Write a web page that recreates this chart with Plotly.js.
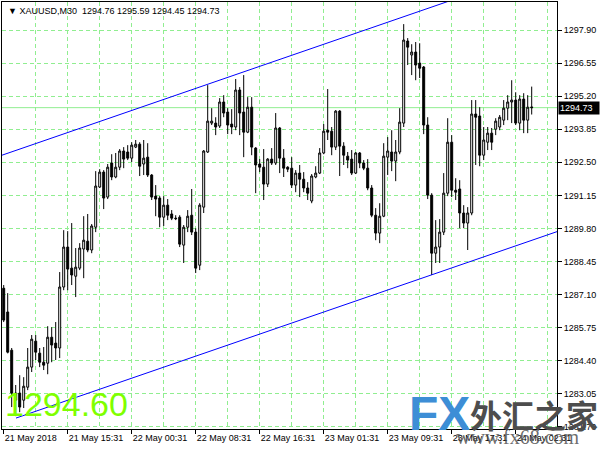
<!DOCTYPE html>
<html><head><meta charset="utf-8">
<script src="https://cdn.plot.ly/plotly-3.0.1.min.js"></script>
<style>html,body{margin:0;padding:0;background:#fff}</style>
</head><body>
<div id="chart" style="width:600px;height:450px"></div>
<script>
const symbol = "XAUUSD,M30";
const timeLabels = ["21 May 2018","21 May 15:31","22 May 00:31","22 May 08:31","22 May 16:31","23 May 01:31","23 May 09:31","23 May 17:31","24 May 02:31"];
const labelBars = [0,16,32,48,64,80,96,112,128];
const gridBars = [8,16,24,32,40,48,56,64,72,80,88,96,104,112,120,128,136];
const yTicks = [1281.70,1283.05,1284.40,1285.75,1287.10,1288.45,1289.80,1291.15,1292.50,1293.85,1295.20,1296.55,1297.90];

const open = [
1287.36,1286.39,1284.83,1282.79,1283.08,1282.79,1283.32,1284.14,1285.20,1284.71,
1284.34,1284.30,1285.36,1285.12,1284.92,1287.41,1289.04,1288.18,1287.85,1288.18,
1288.96,1289.28,1288.92,1289.85,1291.49,1292.10,1291.08,1292.47,1291.90,1292.30,
1292.96,1292.92,1292.67,1293.12,1293.24,1292.43,1292.71,1291.98,1291.12,1291.04,
1290.26,1290.75,1290.39,1290.22,1290.26,1289.12,1289.85,1290.34,1289.65,1288.30,
1290.67,1292.92,1294.10,1294.10,1293.98,1294.96,1294.55,1294.06,1293.94,1295.45,
1294.55,1293.73,1294.75,1293.08,1292.43,1292.30,1291.61,1292.63,1292.47,1293.90,
1292.67,1292.30,1292.26,1291.57,1292.06,1291.81,1291.45,1290.92,1291.90,1292.06,
1292.88,1293.81,1293.77,1293.12,1294.59,1293.16,1292.75,1292.63,1292.06,1292.88,
1292.47,1292.26,1291.45,1290.34,1289.61,1290.30,1292.71,1292.92,1292.55,1292.92,
1294.10,1297.45,1296.88,1297.00,1296.55,1296.39,1294.02,1291.16,1288.79,1289.04,
1289.65,1291.24,1293.32,1291.36,1291.41,1290.43,1290.02,1290.43,1294.47,1294.39,
1292.79,1293.32,1293.69,1293.85,1293.94,1294.22,1294.71,1294.96,1295.04,1294.10,
1295.08,1294.22,1294.76];
const high = [
1287.49,1287.16,1284.92,1283.41,1283.81,1283.73,1284.92,1285.45,1285.45,1284.92,
1284.96,1285.81,1285.77,1285.98,1288.02,1289.73,1289.69,1290.02,1289.00,1289.20,
1290.30,1290.39,1289.98,1292.14,1292.22,1292.18,1292.43,1292.83,1292.88,1293.04,
1293.12,1293.20,1293.32,1293.41,1293.32,1293.41,1293.28,1292.02,1291.57,1291.12,
1291.12,1291.00,1290.55,1290.34,1290.34,1289.94,1290.55,1291.41,1289.81,1290.83,
1293.00,1295.65,1294.71,1294.34,1295.12,1295.24,1294.71,1294.67,1295.90,1295.57,
1296.06,1295.16,1295.16,1293.12,1292.63,1293.04,1292.67,1293.08,1294.51,1293.94,
1293.04,1292.34,1292.71,1292.18,1292.39,1292.10,1291.69,1292.02,1292.34,1293.08,
1294.06,1295.49,1293.94,1294.63,1294.63,1293.32,1292.92,1293.00,1292.92,1292.92,
1292.59,1292.63,1291.57,1290.63,1290.83,1293.28,1293.53,1293.81,1293.41,1294.71,
1298.14,1297.57,1297.32,1297.41,1297.36,1296.43,1294.34,1291.24,1290.14,1290.18,
1292.06,1294.30,1293.61,1291.85,1291.77,1290.75,1290.67,1295.04,1295.04,1294.75,
1293.94,1293.94,1293.90,1294.30,1294.43,1295.04,1295.24,1295.85,1295.36,1295.24,
1295.32,1295.24,1295.59];
const low = [
1285.98,1284.70,1282.51,1282.14,1282.30,1282.47,1283.20,1283.94,1284.43,1284.14,
1284.02,1283.85,1284.34,1284.43,1284.51,1287.28,1287.28,1287.49,1287.00,1288.10,
1287.77,1288.83,1288.79,1289.65,1291.45,1290.59,1291.00,1291.77,1291.85,1292.18,
1292.26,1292.59,1292.51,1293.08,1291.94,1291.98,1291.90,1290.96,1290.30,1289.85,
1289.90,1290.14,1290.14,1290.14,1289.04,1288.39,1289.65,1289.53,1287.98,1288.10,
1290.43,1292.88,1294.02,1293.61,1293.90,1294.34,1293.65,1293.65,1293.81,1293.61,
1292.71,1293.69,1292.79,1291.24,1292.10,1290.96,1291.49,1292.39,1292.39,1292.06,
1291.90,1292.10,1291.45,1291.28,1291.08,1291.28,1290.96,1290.83,1291.85,1292.02,
1292.83,1293.41,1292.79,1293.00,1291.94,1292.39,1292.26,1291.98,1292.02,1292.26,
1292.18,1291.36,1290.26,1289.32,1289.20,1290.26,1291.98,1292.14,1291.73,1292.83,
1293.94,1296.47,1296.06,1295.85,1295.94,1293.65,1291.00,1287.90,1288.39,1288.39,
1289.53,1291.12,1291.08,1290.96,1289.81,1289.81,1288.92,1290.34,1292.39,1292.34,
1292.59,1293.00,1293.00,1293.61,1293.81,1294.02,1294.22,1294.10,1294.02,1293.81,
1293.69,1293.69,1294.45];
const close = [
1286.06,1284.75,1283.08,1283.08,1282.51,1283.36,1284.14,1285.28,1284.75,1284.34,
1284.22,1285.36,1285.04,1284.92,1287.41,1289.04,1288.14,1287.90,1288.22,1289.00,
1289.32,1288.92,1289.90,1291.53,1292.10,1291.04,1292.30,1291.90,1292.30,1292.96,
1292.63,1292.67,1293.20,1293.24,1292.34,1292.67,1291.98,1291.08,1291.00,1290.26,
1290.75,1290.34,1290.22,1290.20,1289.16,1289.85,1290.30,1289.65,1288.18,1290.75,
1292.96,1294.18,1294.18,1293.94,1294.96,1294.51,1294.02,1293.94,1295.45,1294.51,
1293.73,1294.75,1293.12,1292.39,1292.30,1291.61,1292.63,1292.47,1293.90,1292.67,
1292.26,1292.22,1291.57,1292.06,1291.81,1291.45,1291.24,1291.94,1292.06,1292.88,
1293.77,1293.73,1293.12,1294.59,1293.16,1292.79,1292.59,1292.06,1292.88,1292.47,
1292.26,1291.45,1290.34,1289.61,1290.30,1292.75,1292.96,1292.55,1292.92,1294.14,
1297.49,1297.20,1297.00,1296.47,1296.34,1294.02,1291.16,1288.79,1289.04,1289.65,
1291.24,1293.32,1291.36,1291.28,1290.43,1290.02,1290.43,1294.47,1294.34,1292.79,
1293.41,1293.69,1293.32,1294.18,1294.34,1294.71,1294.96,1295.04,1294.10,1295.08,
1294.22,1294.75,1294.73];

const channelUpperBars = [-0.425, 138.325];
const channelUpperPrices = [1292.79, 1300.60];
const channelLowerBars = [3.075, 138.325];
const channelLowerPrices = [1282.06, 1289.67];
const indicatorValue = "1294.60";

const bars = close.map((_, i) => i);
const xRange = [-0.425, 138.325];
const yRange = [1281.614, 1299.043];
const gridColor = "#90EE90";
const font = "Liberation Sans, Arial, sans-serif";
const last = close.length - 1;
const fmt = v => v.toFixed(2);

const traces = [
  {
    type: "candlestick", x: bars, open: open, high: high, low: low, close: close,
    increasing: {line: {color: "#000", width: 1}, fillcolor: "#fff"},
    decreasing: {line: {color: "#000", width: 1}, fillcolor: "#000"},
    whiskerwidth: 0, hoverinfo: "skip", showlegend: false
  },
  {type: "scatter", mode: "lines", x: channelUpperBars, y: channelUpperPrices, xaxis: "x2", yaxis: "y",
   line: {color: "#0000ff", width: 1}, hoverinfo: "skip", showlegend: false},
  {type: "scatter", mode: "lines", x: channelLowerBars, y: channelLowerPrices, xaxis: "x2", yaxis: "y",
   line: {color: "#0000ff", width: 1}, hoverinfo: "skip", showlegend: false}
];

const layout = {
  width: 600, height: 450,
  margin: {l: 2, r: 43, t: 2, b: 21},
  paper_bgcolor: "#fff", plot_bgcolor: "#fff",
  font: {family: font, size: 9, color: "#000"},
  showlegend: false,
  boxgap: 0.3,
  xaxis: {
    type: "linear", range: xRange, fixedrange: true,
    rangeslider: {visible: false},
    tickmode: "array", tickvals: labelBars, ticktext: timeLabels,
    ticks: "outside", ticklen: 4, tickcolor: "#000", tickwidth: 1,
    ticklabelposition: "outside right",
    tickfont: {family: font, size: 9, color: "#000"},
    showgrid: false, zeroline: false,
    showline: true, mirror: true, linecolor: "#000", linewidth: 1
  },
  xaxis2: {
    type: "linear", overlaying: "x", anchor: "y", range: xRange, fixedrange: true,
    tickmode: "array", tickvals: gridBars, showticklabels: false, ticks: "",
    showgrid: true, gridcolor: gridColor, griddash: "4px,3px", gridwidth: 1,
    zeroline: false, showline: false
  },
  yaxis: {
    type: "linear", side: "right", range: yRange, fixedrange: true,
    tickmode: "array", tickvals: yTicks, ticktext: yTicks.map(fmt),
    ticks: "outside", ticklen: 4, tickcolor: "#000", tickwidth: 1,
    tickfont: {family: font, size: 9, color: "#000"},
    showgrid: true, gridcolor: gridColor, griddash: "4px,3px", gridwidth: 1,
    zeroline: false, showline: true, mirror: true, linecolor: "#000", linewidth: 1
  },
  shapes: [
    {type: "line", xref: "paper", x0: 0, x1: 1, yref: "y", y0: close[last], y1: close[last],
     line: {color: gridColor, width: 1}, layer: "below"}
  ],
  annotations: [
    {xref: "paper", yref: "paper", x: 0.008, y: 0.979, xanchor: "left", yanchor: "middle", showarrow: false,
     text: "\u25BC\u00A0" + symbol + "\u00A0\u00A0" + [open[last], high[last], low[last], close[last]].map(fmt).join(" "),
     font: {family: font, size: 9, color: "#000"}},
    {xref: "paper", yref: "y", x: 1, y: close[last], xanchor: "left", yanchor: "middle", showarrow: false,
     xshift: 1, text: fmt(close[last]), bgcolor: "#000", borderpad: 1, width: 38, align: "left",
     font: {family: font, size: 9, color: "#fff"}},
    {xref: "paper", yref: "paper", x: 0.002, y: 0.0585, xanchor: "left", yanchor: "middle", showarrow: false,
     text: indicatorValue, font: {family: font, size: 34, color: "#7FFF00"}},
    {xref: "paper", yref: "paper", x: 0.789, y: 0.036, xanchor: "center", yanchor: "middle", showarrow: false,
     text: "<b>FX</b>", font: {family: font, size: 48, color: "#3d8ed6"}},
    {xref: "paper", yref: "paper", x: 0.958, y: 0.036, xanchor: "center", yanchor: "middle", showarrow: false,
     text: "<b>外汇之家</b>", font: {family: "Noto Sans CJK SC, sans-serif", size: 32, color: "#4d4d4d"}},
    {xref: "paper", yref: "paper", x: 0.93, y: -0.019, xanchor: "center", yanchor: "middle", showarrow: false,
     text: "www.fx68.com", font: {family: "Liberation Serif, serif", size: 20, color: "rgba(70,70,70,0.8)"}}
  ]
};

Plotly.newPlot("chart", traces, layout, {displayModeBar: false, staticPlot: true});
</script>
</body></html>
